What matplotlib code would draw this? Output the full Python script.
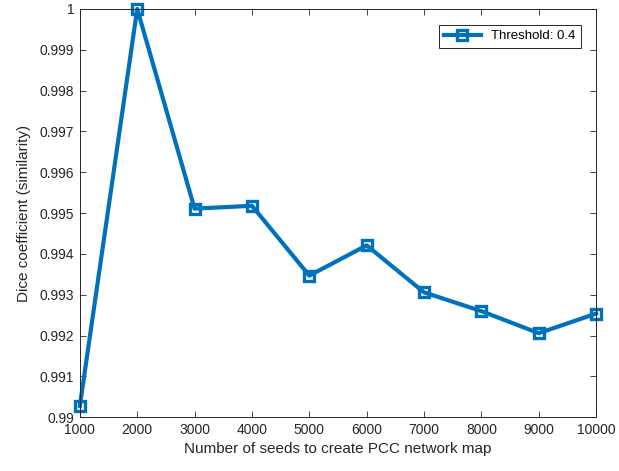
import matplotlib
matplotlib.use("Agg")
import matplotlib.pyplot as plt

# Dice similarity vs. number of seeds (threshold 0.4)
n_seeds = [1000, 2000, 3000, 4000, 5000, 6000, 7000, 8000, 9000, 10000]
dice = [0.99028, 1.0, 0.99511, 0.99518, 0.99347, 0.99421, 0.99306, 0.99260, 0.99206, 0.99254]

yticks = [0.99, 0.991, 0.992, 0.993, 0.994, 0.995, 0.996, 0.997, 0.998, 0.999, 1.0]
ytick_labels = ["0.99", "0.991", "0.992", "0.993", "0.994", "0.995", "0.996", "0.997", "0.998", "0.999", "1"]

plt.rcParams['font.family'] = ['Liberation Sans', 'DejaVu Sans']
dark = '#262626'

fig = plt.figure(figsize=(6.19, 4.71), dpi=100)
ax = fig.add_axes([0.129, 0.114, 0.834, 0.867])

ax.plot(n_seeds, dice, color='#0072BD', linewidth=3.0, marker='s', markersize=6.5,
        markerfacecolor='none', markeredgewidth=2.4, label='Threshold: 0.4', clip_on=False)

ax.set_xlim(1000, 10000)
ax.set_ylim(0.99, 1.0)
ax.set_xticks(n_seeds)
ax.set_xticklabels([str(v) for v in n_seeds])
ax.set_yticks(yticks)
ax.set_yticklabels(ytick_labels)

ax.tick_params(direction='in', top=True, right=True, length=4, width=0.6,
               colors=dark, labelsize=10, pad=4)
for s in ax.spines.values():
    s.set_color(dark)
    s.set_linewidth(0.7)

ax.set_xlabel('Number of seeds to create PCC network map', fontsize=11, color=dark, labelpad=4)
ax.set_ylabel('Dice coefficient (similarity)', fontsize=11, color=dark, labelpad=6)

leg = ax.legend(loc='upper right', fontsize=9.5, fancybox=False, framealpha=1,
                edgecolor=dark, handlelength=2.8, borderpad=0.4, borderaxespad=0,
                bbox_to_anchor=(0.971, 0.961))
leg.get_frame().set_linewidth(0.7)

fig.savefig('out.png', dpi=100)
